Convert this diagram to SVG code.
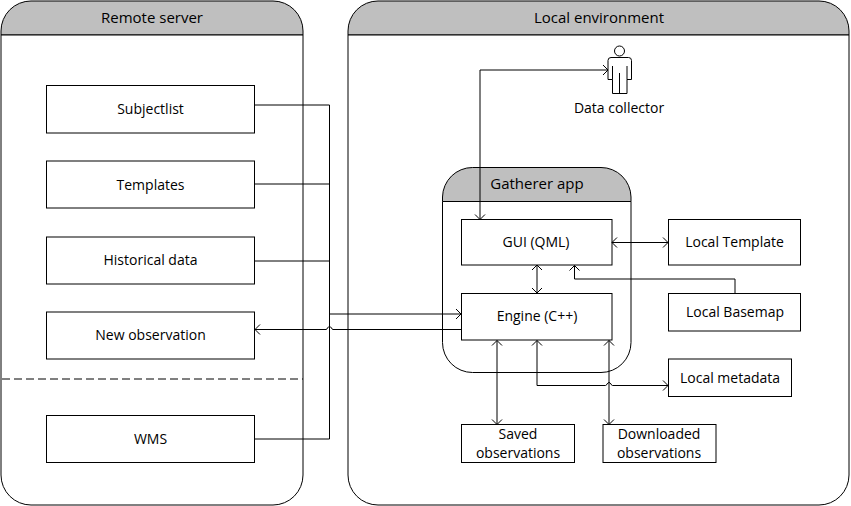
<svg xmlns="http://www.w3.org/2000/svg" width="851" height="506" viewBox="0 0 851 506">
<style>
text{font-family:"Open Sans","Noto Sans","Liberation Sans",sans-serif;font-size:14px;fill:#000;text-anchor:middle}
text.t{font-size:15px}
.p{fill:#fff;stroke:#000;stroke-width:1}
.h{fill:#bfbfbf;stroke:#000;stroke-width:1}
.b{fill:#fff;stroke:#000;stroke-width:1}
.c{fill:none;stroke:#000;stroke-width:1}
</style>
<defs>
<marker id="a" viewBox="-7 -6 8 12" refX="0" refY="0" markerWidth="8" markerHeight="12" markerUnits="userSpaceOnUse" orient="auto-start-reverse"><path d="M-5,-5L0,0L-5,5" fill="none" stroke="#000" stroke-width="1"/></marker>
</defs>
<g id="remote-server">
<path class="h" d="M1 35V31A30 30 0 0 1 31 1H273A30 30 0 0 1 303 31V35Z"/>
<path class="p" d="M1 35H303V475A30 30 0 0 1 273 505H31A30 30 0 0 1 1 475Z"/>
<text class="t" x="152" y="23">Remote server</text>
</g>
<g id="local-environment">
<path class="h" d="M348 35V31A30 30 0 0 1 378 1H819A30 30 0 0 1 849 31V35Z"/>
<path class="p" d="M348 35H849V475A30 30 0 0 1 819 505H378A30 30 0 0 1 348 475Z"/>
<text class="t" x="599" y="23">Local environment</text>
</g>
<g id="gatherer-app">
<path class="h" d="M442.500 201.500V197A30 30 0 0 1 472.500 167.500H601A30 30 0 0 1 631 197V201.500Z"/>
<path class="p" d="M442.500 201.500H631V342.500A30 30 0 0 1 601 372.500H472.500A30 30 0 0 1 442.500 342.500Z"/>
<text class="t" x="537" y="189">Gatherer app</text>
</g>
<line id="divider" x1="2" y1="379" x2="303" y2="379" stroke="#000" stroke-width="1" stroke-dasharray="8 4"/>
<g id="subjectlist"><rect class="b" x="46.500" y="85.500" width="208" height="47.500"/><text x="150.500" y="114">Subjectlist</text></g>
<g id="templates"><rect class="b" x="46.500" y="161" width="208" height="47"/><text x="150.500" y="190">Templates</text></g>
<g id="historical-data"><rect class="b" x="46.500" y="237" width="208" height="47"/><text x="150.500" y="265">Historical data</text></g>
<g id="new-observation"><rect class="b" x="46.500" y="312" width="208" height="47"/><text x="150.500" y="340">New observation</text></g>
<g id="wms"><rect class="b" x="46.500" y="415.500" width="208" height="47"/><text x="150.500" y="444">WMS</text></g>
<g id="gui"><rect class="b" x="461.500" y="219.500" width="150.500" height="45.500"/><text x="536" y="247">GUI (QML)</text></g>
<g id="engine"><rect class="b" x="461.500" y="293.500" width="150.500" height="46.500"/><text x="537" y="321">Engine (C++)</text></g>
<g id="local-template"><rect class="b" x="668.500" y="219.500" width="132" height="45.500"/><text x="734.500" y="247">Local Template</text></g>
<g id="local-basemap"><rect class="b" x="668.500" y="293.500" width="132" height="37.500"/><text x="735" y="317">Local Basemap</text></g>
<g id="local-metadata"><rect class="b" x="668.500" y="359" width="123" height="37.500"/><text x="730" y="383">Local metadata</text></g>
<g id="saved-observations"><rect class="b" x="461.500" y="424.500" width="113" height="38"/><text x="518" y="439">Saved</text><text x="518" y="458">observations</text></g>
<g id="downloaded-observations"><rect class="b" x="603" y="424.500" width="113" height="38"/><text x="659" y="439">Downloaded</text><text x="659" y="458">observations</text></g>
<g id="data-collector">
<circle cx="619.500" cy="51" r="5" fill="#fff" stroke="#000"/>
<path d="M611 57.500H628.500Q631.500 57.500 631.500 60.500V79.500H627V93.500H612.500V79.500H608V60.500Q608 57.500 611 57.500ZM612.500 66V79.500M627 66V79.500M619.500 73V93.500" fill="#fff" stroke="#000"/>
<text x="619" y="113">Data collector</text>
</g>
<g id="connectors" class="c">
<path class="c" d="M254 105H329.500V439H254"/>
<path class="c" d="M254 184H329.500"/>
<path class="c" d="M254 261H329.500"/>
<path class="c" d="M329.500 314H461" marker-end="url(#a)"/>
<path class="c" d="M461 329.500H333Q332 329.500 331.500 328Q330.500 326.500 329.500 326.500Q328.500 326.500 327.500 328Q327 329.500 326 329.500H255" marker-end="url(#a)"/>
<path class="c" d="M608 70H480V219.500" marker-start="url(#a)" marker-end="url(#a)"/>
<path class="c" d="M612 242.500H668" marker-start="url(#a)" marker-end="url(#a)"/>
<path class="c" d="M537 265V293" marker-start="url(#a)" marker-end="url(#a)"/>
<path class="c" d="M735 293V279H574.500V265.500" marker-end="url(#a)"/>
<path class="c" d="M497 340.500V424.500" marker-start="url(#a)" marker-end="url(#a)"/>
<path class="c" d="M537 340.500V385.500H605.500Q606.500 385.500 607 384Q608 382.500 609 382.500Q610 382.500 611 384Q611.500 385.500 612.500 385.500H668" marker-start="url(#a)" marker-end="url(#a)"/>
<path class="c" d="M609 340.500V424.500" marker-start="url(#a)" marker-end="url(#a)"/>
</g>
</svg>
